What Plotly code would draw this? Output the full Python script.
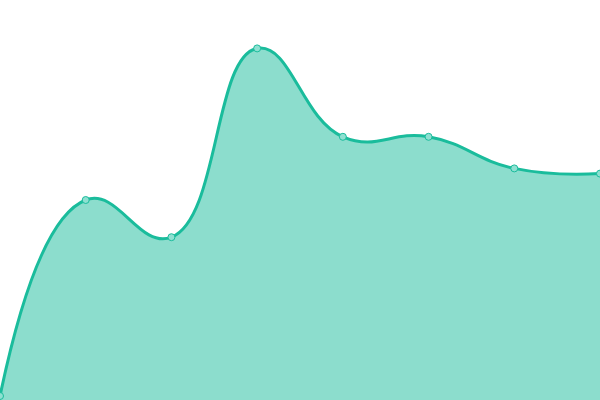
import plotly.graph_objects as go

x_values = [0, 1, 2, 3, 4, 5, 6, 7]
y_values = [1, 50, 40.7, 87.9, 65.8, 65.8, 57.9, 56.6]

fig = go.Figure()
fig.add_trace(go.Scatter(
    x=x_values, y=y_values,
    mode="lines+markers",
    line=dict(shape="spline", smoothing=1.3, color="#1abc9c", width=3),
    fill="tozeroy",
    fillcolor="rgba(26,188,156,0.5)",
    marker=dict(size=7, color="#8ee0d1", line=dict(color="#1abc9c", width=1)),
    cliponaxis=False,
    hoverinfo="skip",
))
fig.update_layout(
    width=600, height=400,
    margin=dict(l=0, r=0, t=0, b=0),
    paper_bgcolor="white", plot_bgcolor="white",
    showlegend=False,
    xaxis=dict(visible=False, range=[0, 7], fixedrange=True),
    yaxis=dict(visible=False, range=[0, 100], fixedrange=True),
)
fig.write_html(
    "out.html",
    config={"displayModeBar": False},
    post_script="document.body.style.margin='0';document.body.style.overflow='hidden';",
)
